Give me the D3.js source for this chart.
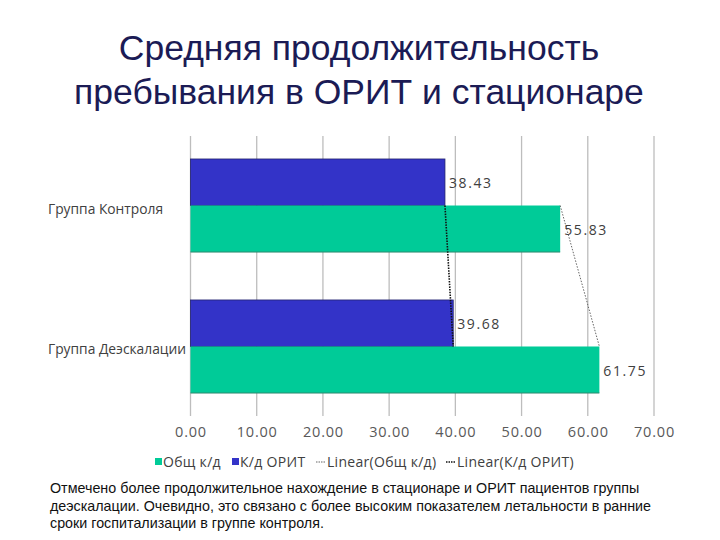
<!DOCTYPE html>
<html><head><meta charset="utf-8">
<script src="https://cdn.jsdelivr.net/npm/d3@7"></script>
<style>body{margin:0;background:#fff}svg{display:block}</style>
</head><body>
<script>
const categories = ["Группа Контроля", "Группа Деэскалации"];
const seriesNames = ["К/д ОРИТ", "Общ к/д"];
const icuDays = [38.43, 39.68];
const totalDays = [55.83, 61.75];
const xTicks = [0, 10, 20, 30, 40, 50, 60, 70];
const titleLines = ["Средняя продолжительность", "пребывания в ОРИТ и стационаре"];
const noteLines = [
  "Отмечено более продолжительное нахождение в стационаре и ОРИТ пациентов группы",
  "деэскалации. Очевидно, это связано с более высоким показателем летальности в ранние",
  "сроки госпитализации в группе контроля."
];
const legendItems = ["Общ к/д", "К/д ОРИТ", "Linear(Общ к/д)", "Linear(К/д ОРИТ)"];

const W = 720, H = 540;
const svg = d3.select("body").append("svg").attr("width", W).attr("height", H);
const blue = "#3333c8", green = "#00cb98";

// title
svg.append("g").selectAll("text").data(titleLines).join("text")
  .attr("x", 359).attr("y", (d, i) => 60 + i * 44)
  .attr("text-anchor", "middle")
  .attr("font-family", "Liberation Sans, Arial, sans-serif")
  .attr("font-size", 35.5).attr("fill", "#1b1b55").text(d => d);

const x = d3.scaleLinear().domain([0, 70]).range([190.5, 654]);
const y = d3.scaleBand().domain(categories).range([136, 416]).paddingInner(0.34).paddingOuter(0.163);
const ySub = d3.scaleBand().domain(seriesNames).range([0, y.bandwidth()]);

// gridlines
svg.append("g").selectAll("line").data(xTicks).join("line")
  .attr("x1", d => x(d)).attr("x2", d => x(d))
  .attr("y1", 136).attr("y2", 416)
  .attr("stroke", "#bdbdbd").attr("stroke-width", 1.3);

// tick labels via axis
const ax = svg.append("g").attr("transform", "translate(0,416)")
  .call(d3.axisBottom(x).tickValues(xTicks).tickFormat(d3.format(".2f")).tickSize(0).tickPadding(11));
ax.select(".domain").remove();
ax.selectAll("text").attr("font-family", "Open Sans, sans-serif").attr("font-size", 14.5)
  .attr("letter-spacing", 0.8).attr("fill", "#595959");

// category labels
svg.append("g").selectAll("text").data(categories).join("text")
  .attr("x", 48).attr("y", d => y(d) + y.bandwidth() / 2 + 8)
  .attr("font-family", "Open Sans, sans-serif").attr("font-size", 13.8).attr("fill", "#404040")
  .text(d => d);

// bars
const bars = svg.append("g");
categories.forEach((c, i) => {
  const by = y(c) + ySub("К/д ОРИТ");
  bars.append("rect").attr("x", x(0)).attr("y", by).attr("width", x(icuDays[i]) - x(0)).attr("height", ySub.bandwidth())
    .attr("fill", blue).attr("stroke", "#24246e").attr("stroke-width", 0.8);
  const gy = y(c) + ySub("Общ к/д");
  bars.append("rect").attr("x", x(0)).attr("y", gy).attr("width", x(totalDays[i]) - x(0)).attr("height", ySub.bandwidth())
    .attr("fill", green);
  bars.append("line").attr("x1", x(0)).attr("x2", x(totalDays[i])).attr("y1", gy + ySub.bandwidth()).attr("y2", gy + ySub.bandwidth())
    .attr("stroke", "#2f8a70").attr("stroke-width", 1);
});

// trendlines through category centres
const line = d3.line().x(d => x(d[0])).y(d => d[1]);
const centers = categories.map(c => y(c) + y.bandwidth() / 2);
svg.append("path").attr("d", line(totalDays.map((v, i) => [v, centers[i]])))
  .attr("fill", "none").attr("stroke", "#666").attr("stroke-width", 1).attr("stroke-dasharray", "1.5,1.5");
svg.append("path").attr("d", line(icuDays.map((v, i) => [v, centers[i]])))
  .attr("fill", "none").attr("stroke", "#111").attr("stroke-width", 1.6).attr("stroke-dasharray", "1.5,1.2");

// data labels
const labG = svg.append("g").attr("font-family", "Open Sans, sans-serif").attr("font-size", 14)
  .attr("letter-spacing", 1.6).attr("fill", "#404040");
categories.forEach((c, i) => {
  labG.append("text").attr("x", x(icuDays[i]) + 4).attr("y", y(c) + ySub("К/д ОРИТ") + ySub.bandwidth() / 2 + 6).text(icuDays[i].toFixed(2));
  labG.append("text").attr("x", x(totalDays[i]) + 4).attr("y", y(c) + ySub("Общ к/д") + ySub.bandwidth() / 2 + 6).text(totalDays[i].toFixed(2));
});

// legend
const lg = svg.append("g").attr("font-family", "Open Sans, sans-serif").attr("font-size", 14)
  .attr("letter-spacing", 0.3).attr("fill", "#404040");
const lx = [155, 232, 316, 446];
lg.append("rect").attr("x", lx[0]).attr("y", 458).attr("width", 7).attr("height", 7).attr("fill", green);
lg.append("text").attr("x", lx[0] + 8).attr("y", 467).text(legendItems[0]);
lg.append("rect").attr("x", lx[1]).attr("y", 458).attr("width", 7).attr("height", 7).attr("fill", blue);
lg.append("text").attr("x", lx[1] + 8).attr("y", 467).text(legendItems[1]);
lg.append("line").attr("x1", lx[2]).attr("x2", lx[2] + 10).attr("y1", 462).attr("y2", 462)
  .attr("stroke", "#666").attr("stroke-width", 1.2).attr("stroke-dasharray", "1.5,1");
lg.append("text").attr("x", lx[2] + 11).attr("y", 467).text(legendItems[2]);
lg.append("line").attr("x1", lx[3]).attr("x2", lx[3] + 10).attr("y1", 462).attr("y2", 462)
  .attr("stroke", "#111").attr("stroke-width", 1.6).attr("stroke-dasharray", "1.5,1");
lg.append("text").attr("x", lx[3] + 11).attr("y", 467).text(legendItems[3]);

// note
svg.append("g").selectAll("text").data(noteLines).join("text")
  .attr("x", 50).attr("y", (d, i) => 493 + i * 17.5)
  .attr("font-family", "Liberation Sans, Arial, sans-serif").attr("font-size", 14.3).attr("fill", "#111")
  .text(d => d);
</script>
</body></html>
